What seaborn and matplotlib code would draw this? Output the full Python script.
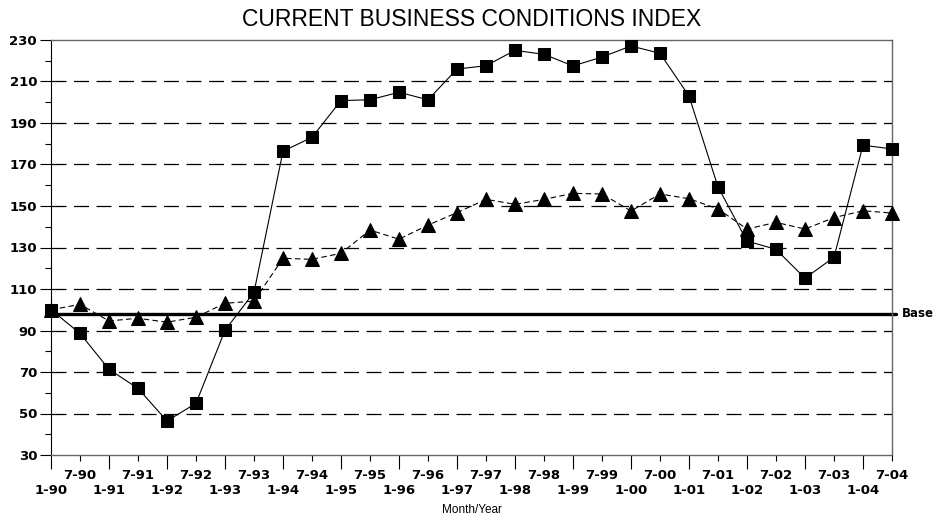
import numpy as np
import pandas as pd
import matplotlib
matplotlib.use("Agg")
import matplotlib.pyplot as plt
import seaborn as sns

# periode semi-annual 1-90 .. 7-04
periods = []
for yr in range(1990, 2005):
    periods.append("1-%02d" % (yr % 100))
    periods.append("7-%02d" % (yr % 100))

# nilai index (kotak, garis solid)
index_sq = [100, 88.6, 71.3, 62.1, 46.4, 54.9, 90.1, 108.4, 176.4, 183.1,
            200.8, 201.2, 204.8, 201.2, 216.0, 217.6, 225.0, 223.1, 217.5, 221.8,
            227.1, 223.6, 203.0, 159.2, 133.1, 129.1, 115.2, 125.3, 179.3, 177.5]
# nilai index (segitiga, garis putus-putus)
index_tri = [100, 102.6, 94.6, 95.9, 94.0, 96.4, 103.1, 104.2, 124.8, 124.3,
             127.2, 138.4, 134.0, 140.8, 146.8, 153.2, 150.8, 153.2, 156.1, 155.8,
             147.6, 155.8, 153.5, 148.6, 138.9, 142.1, 138.9, 144.4, 147.7, 146.6]
base_value = 98

y_major = list(range(30, 231, 20))
y_minor = list(range(40, 231, 20))
grid_levels = list(range(50, 211, 20))

df = pd.DataFrame({"pos": np.arange(len(periods)), "period": periods,
                   "sq": index_sq, "tri": index_tri})

sns.set_style("ticks", {"text.color": "black", "xtick.color": "black",
                        "ytick.color": "black", "axes.labelcolor": "black"})
plt.rcParams['font.family'] = ['Liberation Sans', 'DejaVu Sans']

fig = plt.figure(figsize=(9.46, 5.21), dpi=100)
ax = fig.add_axes([51 / 946, 66 / 521, 841 / 946, 415 / 521])

# garis grid putus-putus
for g in grid_levels:
    ax.axhline(g, color="black", lw=0.9, ls=(0, (12, 6)), zorder=1)

# garis base
ax.axhline(base_value, color="black", lw=2.4, zorder=2, clip_on=False,
           xmax=1.005)
ax.text(1.012, base_value, "Base", transform=ax.get_yaxis_transform(),
        ha="left", va="center", fontsize=8.5, fontweight="bold",
        family="DejaVu Sans", color="black")

sns.lineplot(data=df, x="pos", y="tri", ax=ax, color="black", lw=0.8,
             marker="^", markersize=10, markeredgecolor="black",
             linestyle=(0, (5, 3)), zorder=3, clip_on=False)
sns.lineplot(data=df, x="pos", y="sq", ax=ax, color="black", lw=0.8,
             marker="s", markersize=8.5, markeredgecolor="black",
             zorder=4, clip_on=False)

ax.set_xlim(0, len(periods) - 1)
ax.set_ylim(30, 230)

ax.set_yticks(y_major)
ax.set_yticks(y_minor, minor=True)
ax.tick_params(axis="y", which="major", length=8, width=0.8, pad=2, labelsize=9.5)
ax.tick_params(axis="y", which="minor", length=4, width=0.8)

pos = df["pos"].values
ax.set_xticks(pos[::2])
ax.set_xticklabels(periods[::2])
ax.set_xticks(pos[1::2], minor=True)
ax.set_xticklabels(periods[1::2], minor=True)
ax.tick_params(axis="x", which="major", length=10, width=0.8, pad=11, labelsize=9.5)
ax.tick_params(axis="x", which="minor", length=4, width=0.8, pad=6, labelsize=9.5)

for lab in ax.get_xticklabels() + ax.get_xticklabels(minor=True) + ax.get_yticklabels():
    lab.set_fontweight("bold")
    lab.set_family("DejaVu Sans")
    lab.set_color("black")

ax.set_xlabel("Month/Year", fontsize=8.5, labelpad=5, color="black")
ax.set_ylabel("")
ax.set_title("CURRENT BUSINESS CONDITIONS INDEX", fontsize=16.5, pad=10,
             color="black")

for s in ["top", "right", "bottom"]:
    ax.spines[s].set_color("#666666")
    ax.spines[s].set_linewidth(1.0)
ax.spines["left"].set_color("black")

fig.savefig("out.png", dpi=100)
